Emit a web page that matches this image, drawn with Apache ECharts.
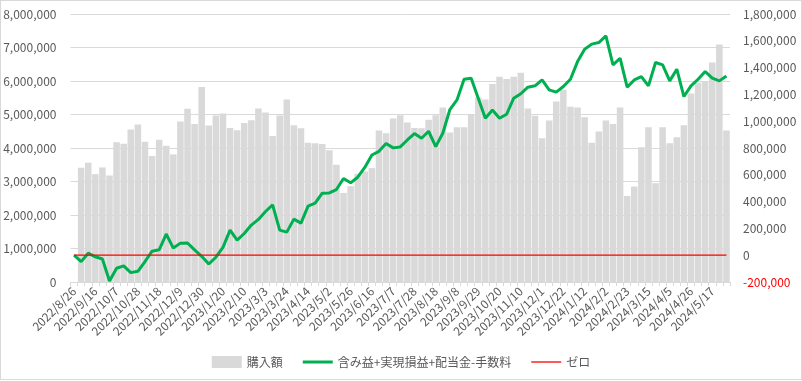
<!DOCTYPE html>
<html><head><meta charset="utf-8">
<script src="https://cdn.jsdelivr.net/npm/echarts@6/dist/echarts.min.js"></script>
<style>
html,body{margin:0;padding:0;background:#fff;}
#frame{position:absolute;left:0;top:0;width:800px;height:378px;border:1px solid #d9d9d9;}
#c{position:absolute;left:0;top:0;width:802px;height:381px;}
</style></head>
<body><div id="frame"></div><div id="c"></div>
<script>
const dates = ["2022/8/26","2022/9/2","2022/9/9","2022/9/16","2022/9/23","2022/9/30","2022/10/7","2022/10/14","2022/10/21","2022/10/28",
"2022/11/4","2022/11/11","2022/11/18","2022/11/25","2022/12/2","2022/12/9","2022/12/16","2022/12/23","2022/12/30",
"2023/1/6","2023/1/13","2023/1/20","2023/1/27","2023/2/3","2023/2/10","2023/2/17","2023/2/24","2023/3/3","2023/3/10",
"2023/3/17","2023/3/24","2023/3/31","2023/4/7","2023/4/14","2023/4/21","2023/4/28","2023/5/2","2023/5/12","2023/5/19",
"2023/5/26","2023/6/2","2023/6/9","2023/6/16","2023/6/23","2023/6/30","2023/7/7","2023/7/14","2023/7/21","2023/7/28",
"2023/8/4","2023/8/11","2023/8/18","2023/8/25","2023/9/1","2023/9/8","2023/9/15","2023/9/22","2023/9/29","2023/10/6",
"2023/10/13","2023/10/20","2023/10/27","2023/11/3","2023/11/10","2023/11/17","2023/11/24","2023/12/1","2023/12/8","2023/12/15",
"2023/12/22","2023/12/29","2024/1/5","2024/1/12","2024/1/19","2024/1/26","2024/2/2","2024/2/9","2024/2/16","2024/2/23",
"2024/3/1","2024/3/8","2024/3/15","2024/3/22","2024/3/29","2024/4/5","2024/4/12","2024/4/19","2024/4/26","2024/5/3",
"2024/5/10","2024/5/17","2024/5/24","2024/5/31"];

const purchase = [0,3410000,3560000,3220000,3420000,3180000,4170000,4130000,4550000,4700000,
4190000,3760000,4250000,4070000,3810000,4790000,5170000,4720000,5820000,
4670000,4970000,5030000,4600000,4530000,4750000,4830000,5180000,5060000,4360000,
4970000,5450000,4680000,4590000,4160000,4140000,4120000,3930000,3500000,2660000,
2860000,3230000,3300000,3400000,4520000,4440000,4880000,4980000,4760000,4600000,
4590000,4840000,4980000,5210000,4460000,4620000,4620000,5000000,5510000,5450000,
5910000,6130000,6060000,6130000,6250000,5180000,4960000,4290000,4820000,5390000,
5740000,5230000,5210000,4920000,4160000,4490000,4820000,4720000,5210000,2570000,
2850000,4020000,4620000,2950000,4620000,4140000,4320000,4680000,5630000,5950000,
6000000,6550000,7090000,4520000];

const profit = [0,-48000,15000,-12000,-28000,-193000,-97000,-80000,-130000,-120000,
-48000,30000,40000,158000,53000,90000,91000,40000,-8000,
-66000,-15000,58000,187000,112000,162000,225000,267000,326000,376000,
187000,172000,269000,239000,366000,388000,463000,465000,490000,572000,
540000,582000,655000,748000,775000,834000,801000,808000,860000,908000,
873000,925000,810000,910000,1087000,1159000,1313000,1321000,1172000,1022000,
1084000,1022000,1052000,1172000,1205000,1254000,1264000,1308000,1234000,1217000,
1259000,1313000,1445000,1537000,1575000,1587000,1637000,1420000,1470000,1254000,
1308000,1333000,1264000,1438000,1420000,1301000,1388000,1184000,1264000,1313000,
1371000,1321000,1301000,1338000];

const zero = dates.map(() => 0);

const seriesNames = ["購入額","含み益+実現損益+配当金-手数料","ゼロ"];

const font = '"Noto Sans CJK JP", "Noto Sans", sans-serif';
const txt = '#595959';
const fmt = v => v.toLocaleString('en-US');

const chart = echarts.init(document.getElementById('c'), null, {renderer:'canvas'});
chart.setOption({
  animation:false,
  textStyle:{fontFamily:font},
  grid:{left:70.5, right:72, top:14, bottom:99, containLabel:false},
  legend:{
    top:351, left:'center', itemGap:20, itemWidth:30, itemHeight:12,
    textStyle:{fontFamily:font, fontSize:12, color:txt},
    data:[
      {name:seriesNames[0], icon:'rect'},
      {name:seriesNames[1], icon:'path://M0,0h30v3H0z', itemStyle:{color:'#00b050'}},
      {name:seriesNames[2], icon:'path://M0,0h30v1.3H0z', itemStyle:{color:'#ff0000'}}
    ]
  },
  xAxis:{
    type:'category', data:dates, boundaryGap:true,
    axisLine:{show:true, lineStyle:{color:'#d9d9d9'}},
    axisTick:{show:true, interval:0, length:4, lineStyle:{color:'#d9d9d9'}},
    axisLabel:{interval:2, rotate:45, margin:7, fontSize:12, color:txt, fontFamily:font},
    splitLine:{show:false}
  },
  yAxis:[
    {type:'value', min:0, max:8000000, interval:1000000,
     axisLine:{show:false}, axisTick:{show:false},
     axisLabel:{fontSize:12, color:txt, fontFamily:font, margin:14, formatter:fmt},
     splitLine:{show:true, lineStyle:{color:'#d9d9d9', width:1}}},
    {type:'value', min:-200000, max:1800000, interval:200000,
     axisLine:{show:false}, axisTick:{show:false},
     axisLabel:{fontSize:12, fontFamily:font, margin:13, formatter:fmt,
       color:(v)=> (Number(v) < 0 ? '#ff0000' : txt)},
     splitLine:{show:false}}
  ],
  series:[
    {name:seriesNames[0], type:'bar', data:purchase, yAxisIndex:0,
     barCategoryGap:'8%', itemStyle:{color:'#d9d9d9'}},
    {name:seriesNames[1], type:'line', data:profit, yAxisIndex:1,
     symbol:'none', lineStyle:{color:'#00b050', width:3}, itemStyle:{color:'#00b050'}, z:3},
    {name:seriesNames[2], type:'line', data:zero, yAxisIndex:1,
     symbol:'none', lineStyle:{color:'#ff0000', width:1.3}, itemStyle:{color:'#ff0000'}, z:4}
  ]
});
</script>
</body></html>
